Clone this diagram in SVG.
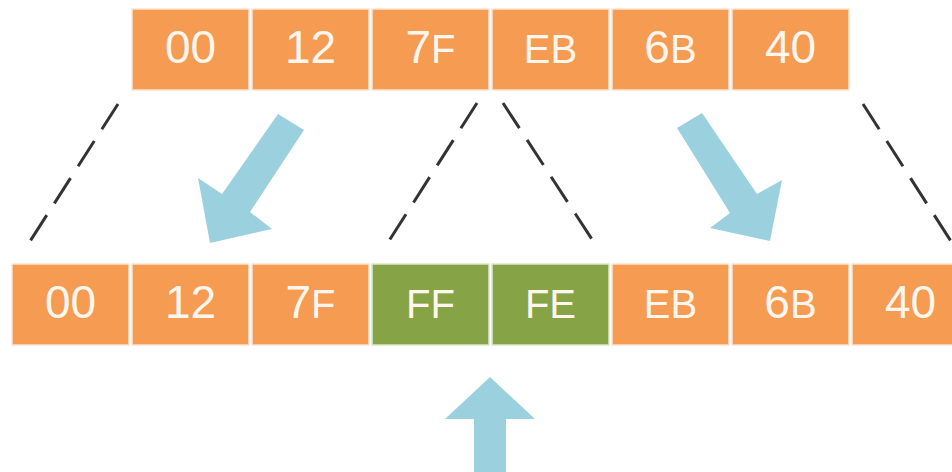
<svg xmlns="http://www.w3.org/2000/svg" width="952" height="472" viewBox="0 0 952 472">
<style>
.o{fill:#f59b52;stroke:#fde4d0;stroke-width:1.5}
.g{fill:#86a445;stroke:#dde8cc;stroke-width:1.5}
.t{font-family:"Liberation Sans",Arial,sans-serif;font-size:46px;fill:#fff6ee;text-anchor:middle}
.s{font-size:40px}
.d{stroke:#333;stroke-width:3;stroke-dasharray:30 14;fill:none}
.a{fill:#9bd1df}
</style>
<rect width="952" height="472" fill="#fff"/>
<g id="top-row">
<g id="t0"><rect class="o" x="132" y="9" width="117" height="81"/><text class="t" x="190.5" y="63">00</text></g>
<g id="t1"><rect class="o" x="252" y="9" width="117" height="81"/><text class="t" x="310.5" y="63">12</text></g>
<g id="t2"><rect class="o" x="372" y="9" width="117" height="81"/><text class="t" x="430.5" y="63">7<tspan class="s">F</tspan></text></g>
<g id="t3"><rect class="o" x="492" y="9" width="117" height="81"/><text class="t" x="550.5" y="63"><tspan class="s">EB</tspan></text></g>
<g id="t4"><rect class="o" x="612" y="9" width="117" height="81"/><text class="t" x="670.5" y="63">6<tspan class="s">B</tspan></text></g>
<g id="t5"><rect class="o" x="732" y="9" width="117" height="81"/><text class="t" x="790.5" y="63">40</text></g>
</g>
<g id="bottom-row">
<g id="b0"><rect class="o" x="12" y="264" width="117" height="81"/><text class="t" x="70.5" y="318">00</text></g>
<g id="b1"><rect class="o" x="132" y="264" width="117" height="81"/><text class="t" x="190.5" y="318">12</text></g>
<g id="b2"><rect class="o" x="252" y="264" width="117" height="81"/><text class="t" x="310.5" y="318">7<tspan class="s">F</tspan></text></g>
<g id="b3"><rect class="g" x="372" y="264" width="117" height="81"/><text class="t" x="430.5" y="318"><tspan class="s">FF</tspan></text></g>
<g id="b4"><rect class="g" x="492" y="264" width="117" height="81"/><text class="t" x="550.5" y="318"><tspan class="s">FE</tspan></text></g>
<g id="b5"><rect class="o" x="612" y="264" width="117" height="81"/><text class="t" x="670.5" y="318"><tspan class="s">EB</tspan></text></g>
<g id="b6"><rect class="o" x="732" y="264" width="117" height="81"/><text class="t" x="790.5" y="318">6<tspan class="s">B</tspan></text></g>
<g id="b7"><rect class="o" x="852" y="264" width="117" height="81"/><text class="t" x="910.5" y="318">40</text></g>
</g>
<g id="connectors">
<line class="d" x1="118" y1="104" x2="27" y2="246"/>
<line class="d" x1="477" y1="103" x2="387" y2="244"/>
<line class="d" x1="503" y1="103" x2="595" y2="244"/>
<line class="d" x1="863" y1="104" x2="954" y2="246"/>
<polygon class="a" points="278,114 304,130 250,212 272,229 210,243 198,178 222,194"/>
<polygon class="a" points="677,128 702,113 757,194 782,180 770,241 710,228 730,213"/>
<polygon class="a" points="490,377 535,419 506,419 506,472 474,472 474,419 445,419"/>
</g>
</svg>
